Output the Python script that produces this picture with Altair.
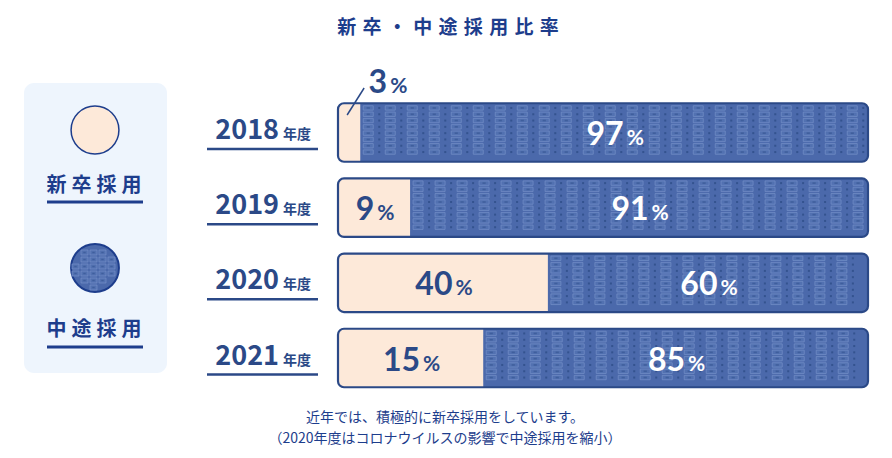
import altair as alt
import pandas as pd
import math

# ---------------- data ----------------
years = ["2018", "2019", "2020", "2021"]
new_pct = [3, 9, 40, 15]            # 新卒採用 (label values)
mid_pct = [97, 91, 60, 85]          # 中途採用 (label values)
new_drawn = [4.2, 13.6, 39.6, 27.4] # drawn length of 新卒 segment
legend_labels = ["新\u2005卒\u2005採\u2005用", "中\u2005途\u2005採\u2005用"]
year_suffix = "年度"
title_text = "新\u2004卒\u2004・\u2004中\u2004途\u2004採\u2004用\u2004比\u2004率"
note_lines = ["近年では、積極的に新卒採用をしています。",
              "（2020年度はコロナウイルスの影響で中途採用を縮小）"]

# ---------------- style ----------------
NAVY = "#2b4987"
TITLE_NAVY = "#1d3d8c"
PEACH = "#fde9d9"
BLUE = "#4b69ab"
BLOCK = "#5271b1"
BLOCK_EDGE = "#7690c8"
DARK = "#34538f"
PANEL = "#eef5fd"
FONT_JP = "Noto Sans CJK JP"
FONT_NUM = "Lato"

OX, OY = 8, 8
X0, X1 = 338 - OX, 868 - OX
PX = (X1 - X0) / 100.0
Y_TOP, Y_BOT = 132.5 - OY, 358 - OY
PR = (Y_BOT - Y_TOP) / 3.0
HALF = 29.25 / PR

x_scale = alt.Scale(domain=[0, 100], range=[X0, X1], nice=False, zero=False)
y_scale = alt.Scale(domain=[0, 3], range=[Y_TOP, Y_BOT], nice=False, zero=False)

# ---------------- tables ----------------
bars = pd.DataFrame({
    "row": list(range(len(years))),
    "year": years,
    "new": new_drawn,
})
bars["start"] = 0
bars["end"] = 100
bars["lo"] = bars["row"] - HALF
bars["hi"] = bars["row"] + HALF

# texture of the 中途 segment
period, bw, bh, rstep = 22 / PX, 10 / PX, 4.4 / PR, 6.3 / PR
blocks, dashes, dots = [], [], []


def add_cell(bx, by):
    blocks.append({"x": bx, "x2": bx + bw, "y": by, "y2": by + bh})
    cx, cy = bx + bw / 2, by + bh / 2
    dashes.append({"x": cx - 1.6 / PX, "x2": cx + 1.6 / PX,
                   "y": cy - 0.8 / PR, "y2": cy + 0.8 / PR})
    return cx, cy


for i, n in enumerate(new_drawn):
    bx = n + 3 / PX
    while bx + bw <= 100 - 4 / PX:
        by = i - HALF + 2.5 / PR
        while by + bh <= i + HALF - 2 / PR:
            cx, cy = add_cell(bx, by)
            dx = bx + bw + 6 / PX
            if dx + 1 / PX <= 100 - 3 / PX:
                dots.append({"x": dx - 1 / PX, "x2": dx + 1 / PX,
                             "y": cy - 1 / PR, "y2": cy + 1 / PR})
            by += rstep
        bx += period

# texture inside the legend circle (centre 87,260 px, radius 27 px)
LCX, LCY, LR = 87, 260, 27
ux = lambda p: (p - X0) / PX
uy = lambda p: (p - Y_TOP) / PR
for gx in range(LCX - 32, LCX + 32, 9):
    for gy in range(LCY - 32, LCY + 32, 7):
        corners = [(gx, gy), (gx + 7, gy), (gx, gy + 5), (gx + 7, gy + 5)]
        if all(math.hypot(a - LCX, b - LCY) <= LR - 2.5 for a, b in corners):
            blocks.append({"x": ux(gx), "x2": ux(gx + 7), "y": uy(gy), "y2": uy(gy + 5)})
            dashes.append({"x": ux(gx + 2.3), "x2": ux(gx + 4.7),
                           "y": uy(gy + 1.8), "y2": uy(gy + 3.2)})

blocks = pd.DataFrame(blocks)
dashes = pd.DataFrame(dashes)
dots = pd.DataFrame(dots)

# value labels
labels = []
for i, (n, m, nd_) in enumerate(zip(new_pct, mid_pct, new_drawn)):
    for v, center, col in ((n, nd_ / 2, NAVY), (m, nd_ + (100 - nd_) / 2, "white")):
        nd = len(str(v))
        if v >= 5:
            total = nd * 18.5 + 3 + 15
            right = center + (nd * 18.5 - total / 2) / PX
            yb = i + 12.5 / PR
        else:
            right = center + 38 / PX
            yb = i - 39.5 / PR
        labels.append({"num": str(v), "pct": "%", "xr": right,
                       "xl": right + 3 / PX, "yb": yb, "col": col})
labels = pd.DataFrame(labels)

# leader for small labels
leaders = pd.DataFrame([
    {"x": d / 2 - 2 / PX, "x2": d / 2 + 15 / PX,
     "y": i - 17.5 / PR, "y2": i - 44.5 / PR}
    for i, (n, d) in enumerate(zip(new_pct, new_drawn)) if n < 5
])

one = pd.DataFrame({"a": [0]})

X = lambda f: alt.X(f, type="quantitative", scale=x_scale, axis=None)
Y = lambda f: alt.Y(f, type="quantitative", scale=y_scale, axis=None)

# ---------------- layers ----------------
panel = alt.Chart(one).mark_rect(fill=PANEL, cornerRadius=10).encode(
    x=alt.value(16), x2=alt.value(159), y=alt.value(75), y2=alt.value(365))

CSIZE = math.pi * 27 ** 2
circ_new = alt.Chart(one).mark_point(
    shape="circle", filled=True, size=CSIZE, fill=PEACH, stroke=TITLE_NAVY,
    strokeWidth=1.5, opacity=1).encode(x=alt.value(87), y=alt.value(122))
circ_mid = alt.Chart(one).mark_point(
    shape="circle", filled=True, size=CSIZE, fill=BLUE, stroke=TITLE_NAVY,
    strokeWidth=2, opacity=1).encode(x=alt.value(LCX), y=alt.value(LCY))

leg_txt1 = alt.Chart(one).mark_text(
    text=legend_labels[0], font=FONT_JP, fontSize=20, fontWeight="bold",
    color=TITLE_NAVY).encode(x=alt.value(86), y=alt.value(178))
leg_txt2 = alt.Chart(one).mark_text(
    text=legend_labels[1], font=FONT_JP, fontSize=20, fontWeight="bold",
    color=TITLE_NAVY).encode(x=alt.value(86), y=alt.value(322))
leg_ul1 = alt.Chart(one).mark_rule(color=TITLE_NAVY, strokeWidth=3).encode(
    x=alt.value(39), x2=alt.value(135), y=alt.value(194))
leg_ul2 = alt.Chart(one).mark_rule(color=TITLE_NAVY, strokeWidth=3).encode(
    x=alt.value(39), x2=alt.value(135), y=alt.value(339))

title = alt.Chart(one).mark_text(
    text=title_text, font=FONT_JP, fontSize=19, fontWeight="bold",
    color=TITLE_NAVY).encode(x=alt.value(440), y=alt.value(20))
note1 = alt.Chart(one).mark_text(
    text=note_lines[0], font=FONT_JP, fontSize=14, color=TITLE_NAVY
).encode(x=alt.value(437), y=alt.value(410))
note2 = alt.Chart(one).mark_text(
    text=note_lines[1], font=FONT_JP, fontSize=14, color=TITLE_NAVY
).encode(x=alt.value(437), y=alt.value(431))

base = alt.Chart(bars)
blue_bar = base.mark_rect(fill=BLUE, cornerRadius=6).encode(
    x=X("start"), x2="end", y=Y("lo"), y2="hi")
tex_blocks = alt.Chart(blocks).mark_rect(
    fill=BLOCK, stroke=BLOCK_EDGE, strokeWidth=0.7).encode(
    x=X("x"), x2="x2", y=Y("y"), y2="y2")
tex_dash = alt.Chart(dashes).mark_rect(fill=DARK, opacity=0.6).encode(
    x=X("x"), x2="x2", y=Y("y"), y2="y2")
tex_dots = alt.Chart(dots).mark_rect(fill=DARK).encode(
    x=X("x"), x2="x2", y=Y("y"), y2="y2")
peach_bar = base.mark_rect(
    fill=PEACH, cornerRadiusTopLeft=6, cornerRadiusBottomLeft=6).encode(
    x=X("start"), x2="new", y=Y("lo"), y2="hi")
outline = base.mark_rect(
    fillOpacity=0, stroke=NAVY, strokeWidth=2.2, cornerRadius=6).encode(
    x=X("start"), x2="end", y=Y("lo"), y2="hi")

year_txt = base.mark_text(
    align="right", baseline="alphabetic", dy=6.5, font=FONT_JP, fontSize=27,
    fontWeight="bold", color=NAVY).encode(
    x=alt.value(271), y=Y("row"), text="year:N")
year_suf = base.mark_text(
    text=year_suffix, align="left", baseline="alphabetic", dy=6.5,
    font=FONT_JP, fontSize=14, fontWeight="bold", color=NAVY).encode(
    x=alt.value(275), y=Y("row"))
year_ul = base.mark_rule(yOffset=16.5, strokeWidth=2.5, color=NAVY).encode(
    x=alt.value(199), x2=alt.value(310), y=Y("row"))

lab = alt.Chart(labels)
num_txt = lab.mark_text(
    align="right", baseline="alphabetic", font=FONT_NUM, fontSize=32,
    fontWeight="bold").encode(
    x=X("xr"), y=Y("yb"), text="num:N", color=alt.Color("col:N", scale=None))
pct_txt = lab.mark_text(
    align="left", baseline="alphabetic", font=FONT_NUM, fontSize=21,
    fontWeight="bold").encode(
    x=X("xl"), y=Y("yb"), text="pct:N", color=alt.Color("col:N", scale=None))
leader = alt.Chart(leaders).mark_rule(color=NAVY, strokeWidth=1.5).encode(
    x=X("x"), x2="x2", y=Y("y"), y2="y2")

chart = alt.layer(
    panel, circ_new, circ_mid,
    leg_txt1, leg_txt2, leg_ul1, leg_ul2,
    title, note1, note2,
    blue_bar, tex_blocks, tex_dash, tex_dots, peach_bar, outline,
    year_txt, year_suf, year_ul, leader, num_txt, pct_txt,
).properties(
    width=876, height=442, autosize=alt.AutoSizeParams(type="none"), padding=0,
    background="white",
).configure_view(stroke=None)

chart.save("out.html", embed_options={"renderer": "svg", "actions": False})
